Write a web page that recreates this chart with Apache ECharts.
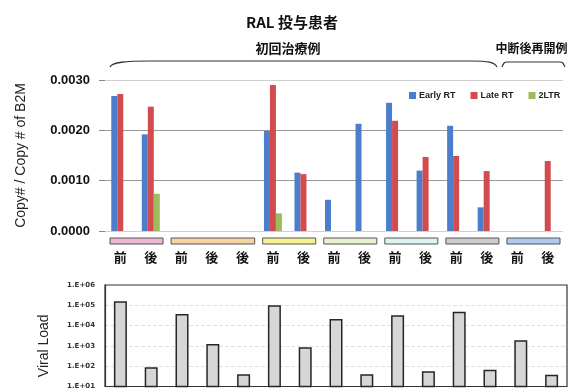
<!DOCTYPE html>
<html>
<head>
<meta charset="utf-8">
<script src="https://cdn.jsdelivr.net/npm/echarts@6/dist/echarts.min.js"></script>
<style>
html,body{margin:0;padding:0;background:#fff}
#c{width:573px;height:390px}
</style>
</head>
<body>
<div id="c"></div>
<script>
// Sample labels (before / after) per patient
const categories = ['前','後','前','後','後','前','後','前','後','前','後','前','後','前','後'];

// Copy# / Copy# of B2M
const earlyRT = [0.00268, 0.00192, null, null, null, 0.00199, 0.00116, 0.00062, 0.00213, 0.00255, 0.00120, 0.00209, 0.00047, null, null];
const lateRT  = [0.00272, 0.00247, null, null, null, 0.00290, 0.00113, null, null, 0.00219, 0.00147, 0.00149, 0.00119, null, 0.00139];
const ltr2    = [null, 0.00074, null, null, null, 0.00035, null, null, null, null, null, null, null, null, null];

// Viral load (copies/mL)
const viralLoad = [160000, 90, 37000, 1250, 40, 100000, 870, 21000, 40, 32000, 56, 48000, 66, 1900, 38];

const seriesNames = ['Early RT', 'Late RT', '2LTR'];
const seriesColors = ['#4d7dcb', '#d24c4f', '#9dbb5b'];

// Patient groups (category index ranges) and their marker colours
const patientGroups = [
  { from: 0,  to: 1,  color: '#ebb7d3' },
  { from: 2,  to: 4,  color: '#f6d3a2' },
  { from: 5,  to: 6,  color: '#f7f28e' },
  { from: 7,  to: 8,  color: '#e6f2d0' },
  { from: 9,  to: 10, color: '#dcf4f1' },
  { from: 11, to: 12, color: '#cccccc' },
  { from: 13, to: 14, color: '#aecbee' }
];

// Treatment cohorts shown with braces above the plot
const cohorts = [
  { label: '初回治療例', from: 0,  to: 12 },
  { label: '中断後再開例', from: 13, to: 14 }
];

const chartTitle = 'RAL 投与患者';

const chart = echarts.init(document.getElementById('c'), null, { renderer: 'canvas' });

const numFont = '"Liberation Sans", Arial, sans-serif';
const cjkFont = '"Noto Sans CJK JP", "Noto Sans", sans-serif';

const option = {
  animation: false,
  backgroundColor: '#ffffff',
  title: {
    text: chartTitle,
    left: 287,
    textAlign: 'center',
    top: 10,
    textStyle: { fontFamily: cjkFont, fontSize: 15, fontWeight: 'bold', color: '#111' }
  },
  legend: {
    left: 404,
    top: 86,
    itemWidth: 7,
    itemHeight: 7,
    itemGap: 15,
    icon: 'rect',
    data: seriesNames,
    textStyle: { fontFamily: numFont, fontSize: 9, fontWeight: 'bold', color: '#222', padding: [0, 0, 0, -2] }
  },
  grid: [
    { left: 105, right: 10, top: 80, height: 151 },
    { left: 105, right: 6, top: 285, bottom: 0, show: true, borderColor: '#333', borderWidth: 1.2, backgroundColor: 'transparent' }
  ],
  xAxis: [
    {
      gridIndex: 0,
      type: 'category',
      data: categories,
      axisLine: { show: false },
      axisTick: { show: false },
      axisLabel: {
        margin: 20,
        fontFamily: cjkFont,
        fontSize: 13,
        fontWeight: 'bold',
        color: '#111'
      }
    },
    {
      gridIndex: 1,
      type: 'category',
      data: categories,
      axisLine: { show: false },
      axisTick: { show: false },
      axisLabel: { show: false }
    }
  ],
  yAxis: [
    {
      gridIndex: 0,
      type: 'value',
      min: 0,
      max: 0.003,
      interval: 0.001,
      name: 'Copy# / Copy # of B2M',
      nameLocation: 'middle',
      nameGap: 77,
      nameTextStyle: { fontFamily: numFont, fontSize: 14, color: '#222' },
      axisLine: { show: false },
      axisTick: { show: true, length: 6, lineStyle: { color: '#888' } },
      axisLabel: {
        margin: 15,
        fontFamily: numFont,
        fontSize: 13,
        fontWeight: 'bold',
        color: '#111',
        formatter: v => v.toFixed(4)
      },
      splitLine: { lineStyle: { color: ['#d0d0d0', '#9a9a9a', '#9a9a9a', '#d0d0d0'], width: 1 } }
    },
    {
      gridIndex: 1,
      type: 'log',
      logBase: 10,
      min: 10,
      max: 1000000,
      name: 'Viral Load',
      nameLocation: 'middle',
      nameGap: 54,
      nameTextStyle: { fontFamily: numFont, fontSize: 14, color: '#222', padding: [0, 20, 0, 0] },
      axisLine: { show: true, lineStyle: { color: '#333', width: 1.2 } },
      axisTick: { show: false },
      axisLabel: {
        margin: 10,
        showMinLabel: true,
        fontFamily: '"DejaVu Sans", sans-serif',
        fontSize: 7,
        fontWeight: 'bold',
        color: '#333',
        formatter: v => '1.E+' + String(Math.round(Math.log10(v))).padStart(2, '0')
      },
      splitLine: {
        show: true,
        lineStyle: { color: ['rgba(0,0,0,0)', '#e2e2e2', '#e2e2e2', '#e2e2e2', '#e2e2e2', 'rgba(0,0,0,0)'], type: 'dashed', width: 1 }
      }
    }
  ],
  series: [
    { name: seriesNames[0], type: 'bar', xAxisIndex: 0, yAxisIndex: 0, data: earlyRT, barWidth: 6, barGap: '0%', itemStyle: { color: seriesColors[0] } },
    { name: seriesNames[1], type: 'bar', xAxisIndex: 0, yAxisIndex: 0, data: lateRT,  barWidth: 6, barGap: '0%', itemStyle: { color: seriesColors[1] } },
    { name: seriesNames[2], type: 'bar', xAxisIndex: 0, yAxisIndex: 0, data: ltr2,    barWidth: 6, barGap: '0%', itemStyle: { color: seriesColors[2] } },
    {
      name: 'Viral Load', type: 'bar', xAxisIndex: 1, yAxisIndex: 1, data: viralLoad, barWidth: 13,
      itemStyle: { color: '#d6d6d6', borderColor: '#262626', borderWidth: 1.5 }
    }
  ]
};

chart.setOption(option);

// Decorations positioned from the category axis
function band(axisIndex, idx) {
  const c0 = chart.convertToPixel({ xAxisIndex: axisIndex }, 0);
  const c1 = chart.convertToPixel({ xAxisIndex: axisIndex }, 1);
  const half = (c1 - c0) / 2;
  const c = chart.convertToPixel({ xAxisIndex: axisIndex }, idx);
  return [c - half, c + half];
}

const graphics = [];

patientGroups.forEach(g => {
  const x0 = band(0, g.from)[0] + 5;
  const x1 = band(0, g.to)[1] - 3;
  graphics.push({
    type: 'rect',
    shape: { x: x0, y: 238, width: x1 - x0, height: 6 },
    style: { fill: g.color, stroke: '#555', lineWidth: 1 }
  });
});

const braceStyle = { fill: null, stroke: '#333', lineWidth: 1.2 };

cohorts.forEach((c, i) => {
  const x0 = band(0, c.from)[0] + (i === 0 ? 5 : 0);
  const x1 = band(0, c.to)[1] + (i === 0 ? -5 : 2);
  const yTop = i === 0 ? 61 : 62;
  const yEnd = 67;
  const r0 = i === 0 ? 40 : 5;
  const r1 = i === 0 ? 25 : 5;
  // left hook
  graphics.push({
    type: 'bezierCurve',
    shape: { x1: x0, y1: yEnd, cpx1: x0 + 2, cpy1: yTop + 1, cpx2: x0 + r0 * 0.4, cpy2: yTop, x2: x0 + r0, y2: yTop },
    style: braceStyle
  });
  // straight span
  graphics.push({
    type: 'line',
    shape: { x1: x0 + r0, y1: yTop, x2: x1 - r1, y2: yTop },
    style: braceStyle
  });
  // right hook
  graphics.push({
    type: 'bezierCurve',
    shape: { x1: x1 - r1, y1: yTop, cpx1: x1 - r1 * 0.4, cpy1: yTop, cpx2: x1 - 2, cpy2: yTop + 1, x2: x1, y2: yEnd },
    style: braceStyle
  });
  const cx = i === 0 ? 288 : (x0 + x1) / 2 - 2;
  graphics.push({
    type: 'text',
    x: cx,
    y: 48,
    style: {
      text: c.label,
      fontFamily: cjkFont,
      fontSize: i === 0 ? 13 : 12,
      fontWeight: 'bold',
      fill: '#111',
      align: 'center',
      verticalAlign: 'middle'
    }
  });
});

chart.setOption({ graphic: graphics });
</script>
</body>
</html>
